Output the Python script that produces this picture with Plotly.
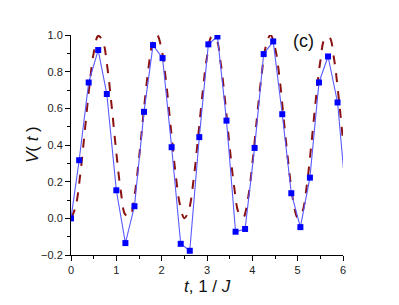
import plotly.graph_objects as go

# Blue simulated points
t_pts = [0.00, 0.18, 0.39, 0.60, 0.79, 1.00, 1.20, 1.40, 1.61, 1.81, 2.02, 2.22,
         2.42, 2.62, 2.83, 3.03, 3.23, 3.43, 3.63, 3.84, 4.05, 4.25, 4.46, 4.66,
         4.86, 5.06, 5.27, 5.47, 5.67, 5.88, 6.08]
v_pts = [0.000, 0.317, 0.741, 0.918, 0.678, 0.153, -0.135, 0.066, 0.581, 0.945,
         0.874, 0.388, -0.139, -0.177, 0.443, 0.949, 0.992, 0.533, -0.073, -0.058,
         0.384, 0.896, 0.965, 0.568, 0.137, -0.048, 0.222, 0.741, 0.883, 0.632, 0.08]

# Dashed reference curve
t_curve = [round(0.1 * i, 1) for i in range(61)]
v_curve = [0.000, 0.061, 0.230, 0.465, 0.708, 0.901, 0.995, 0.968, 0.827, 0.605,
           0.358, 0.146, 0.020, 0.012, 0.123, 0.327, 0.573, 0.801, 0.956, 0.999,
           0.919, 0.738, 0.498, 0.258, 0.078, 0.001, 0.046, 0.203, 0.432, 0.678,
           0.880, 0.989, 0.979, 0.851, 0.638, 0.390, 0.170, 0.030, 0.006, 0.102,
           0.296, 0.544, 0.774, 0.940, 1.000, 0.932, 0.767, 0.522, 0.288, 0.097,
           0.004, 0.034, 0.177, 0.399, 0.646, 0.857, 0.981, 0.987, 0.874, 0.670,
           0.423]

fig = go.Figure()
fig.add_trace(go.Scatter(
    x=t_curve, y=v_curve, mode="lines",
    line=dict(color="#8B1010", width=2, dash="dash", shape="spline", smoothing=1.0),
    showlegend=False))
fig.add_trace(go.Scatter(
    x=t_pts, y=v_pts, mode="lines+markers",
    line=dict(color="#5a5aff", width=1.1),
    marker=dict(symbol="square", size=6, color="#0000ff"),
    showlegend=False))

font_family = "Liberation Sans, Arial, sans-serif"

fig.update_layout(
    width=399, height=305,
    margin=dict(l=63, r=64, t=27, b=58),
    paper_bgcolor="white", plot_bgcolor="white",
    font=dict(family=font_family, size=11, color="#222222"),
    xaxis=dict(range=[0, 6], dtick=1, tick0=0, showgrid=False, zeroline=False,
               showline=True, linecolor="black", linewidth=1,
               ticks="outside", ticklen=5, tickcolor="black",
               minor=dict(ticks="outside", ticklen=3, dtick=0.5, tickcolor="black", showgrid=False),
               tickfont=dict(size=11)),
    yaxis=dict(range=[-0.2, 1.0], dtick=0.2, tick0=0, tickformat=".1f",
               showgrid=False, zeroline=False,
               showline=True, linecolor="black", linewidth=1,
               ticks="outside", ticklen=5, tickcolor="black",
               minor=dict(ticks="outside", ticklen=3, dtick=0.1, tickcolor="black", showgrid=False),
               tickfont=dict(size=11)),
    annotations=[
        dict(text="<i>V</i>( <i>t</i> )", xref="paper", yref="paper",
             x=-0.143, y=0.5, xanchor="center", yanchor="middle", textangle=-90,
             showarrow=False, font=dict(size=17, family=font_family, color="#111111")),
        dict(text="<i>t</i>, 1 / <i>J</i>", xref="paper", yref="paper",
             x=0.5, y=-0.145, xanchor="center", yanchor="middle",
             showarrow=False, font=dict(size=17, family=font_family, color="#111111")),
        dict(text="(c)", xref="paper", yref="paper",
             x=0.853, y=0.973, xanchor="center", yanchor="middle",
             showarrow=False, font=dict(size=18, family=font_family, color="#111111")),
    ],
)

fig.write_html("out.html")
